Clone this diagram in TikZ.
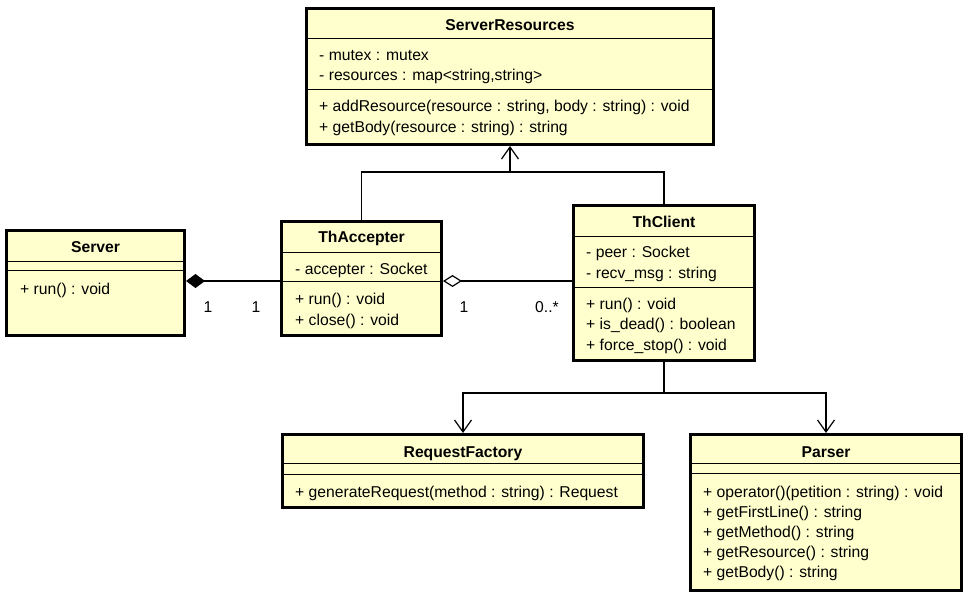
\documentclass[tikz,border=0pt]{standalone}
\usepackage{fontspec}
\setmainfont{Liberation Sans}
\usetikzlibrary{arrows.meta}
\usetikzlibrary{calc}
\usetikzlibrary{positioning}
\definecolor{umlfill}{RGB}{255,255,206}
\tikzset{x=1pt, y=-1pt, font=\fontsize{15.7}{18}\selectfont}
\tikzstyle{class} = [draw, fill=umlfill, line width=2.8pt, rectangle, anchor=north west, inner sep=0pt]
\tikzstyle{title} = [font=\fontsize{15.7}{18}\selectfont\bfseries, anchor=base, inner sep=0pt]
\tikzstyle{member} = [anchor=base west, inner sep=0pt]
\tikzstyle{sep} = [line width=0.9pt]
\tikzstyle{link} = [line width=1.2pt]
\tikzstyle{compo} = [link, -{Diamond[length=19pt,width=14pt]}]
\tikzstyle{aggr} = [link, -{Diamond[open,length=19pt,width=12pt]}]
\tikzstyle{navi} = [link, -{Straight Barb[length=12pt,width=17pt]}]
\tikzstyle{mult} = [inner sep=0pt, yshift=-26pt]

\begin{document}
\begin{tikzpicture}
    \useasboundingbox (0,0) rectangle (970,599);
    \fill[white] (0,0) rectangle (970,599);

    \node [class, minimum width=407.2pt, minimum height=136.2pt] (srvres) at (305,7) {};
    \node [class, minimum width=178.2pt, minimum height=105.2pt] (server) at (5,229) {};
    \node [class, minimum width=160.2pt, minimum height=114.2pt] (thacc) at (280,220) {};
    \node [class, minimum width=181.2pt, minimum height=155.2pt] (thclient) at (572,204) {};
    \node [class, minimum width=361.2pt, minimum height=73.2pt] (reqfac) at (281,433) {};
    \node [class, minimum width=271.2pt, minimum height=156.2pt] (parser) at (689,433) {};

    \draw [sep] (srvres.west |- 0,38) -- (srvres.east |- 0,38);
    \draw [sep] (srvres.west |- 0,89) -- (srvres.east |- 0,89);
    \draw [sep] (server.west |- 0,261) -- (server.east |- 0,261);
    \draw [sep] (server.west |- 0,270) -- (server.east |- 0,270);
    \draw [sep] (thacc.west |- 0,252) -- (thacc.east |- 0,252);
    \draw [sep] (thacc.west |- 0,281) coordinate (acc-s2w) -- (thacc.east |- 0,281) coordinate (acc-s2e);
    \draw [sep] (thclient.west |- 0,236) -- (thclient.east |- 0,236);
    \draw [sep] (thclient.west |- 0,287) -- (thclient.east |- 0,287);
    \draw [sep] (reqfac.west |- 0,463) -- (reqfac.east |- 0,463);
    \draw [sep] (reqfac.west |- 0,474) -- (reqfac.east |- 0,474);
    \draw [sep] (parser.west |- 0,463) -- (parser.east |- 0,463);
    \draw [sep] (parser.west |- 0,473) -- (parser.east |- 0,473);

    \node [title] (srvres-name) at (srvres.north |- 0,31) {ServerResources};
    \node [member] (srvres-a1) at (319,61) {- mutex : mutex};
    \node [member] (srvres-a2) at (319,81) {- resources : map<string,string>};
    \node [member] (srvres-m1) at (319,112) {+ addResource(resource : string, body : string) : void};
    \node [member] (srvres-m2) at (319,133) {+ getBody(resource : string) : string};

    \node [title] (server-name) at (server.north |- 0,252) {Server};
    \node [member] (server-m1) at (20,294) {+ run() : void};

    \node [title] (thacc-name) at (thacc.north |- 0,243) {ThAccepter};
    \node [member] (thacc-a1) at (295,274) {- accepter : Socket};
    \node [member] (thacc-m1) at (295,304) {+ run() : void};
    \node [member] (thacc-m2) at (295,325) {+ close() : void};

    \node [title] (thclient-name) at (thclient.north |- 0,227) {ThClient};
    \node [member] (thclient-a1) at (586,258) {- peer : Socket};
    \node [member] (thclient-a2) at (586,278) {- recv\_msg : string};
    \node [member] (thclient-m1) at (586,309) {+ run() : void};
    \node [member] (thclient-m2) at (586,329) {+ is\_dead() : boolean};
    \node [member] (thclient-m3) at (586,350) {+ force\_stop() : void};

    \node [title] (reqfac-name) at (reqfac.north |- 0,457) {RequestFactory};
    \node [member] (reqfac-m1) at (295,497) {+ generateRequest(method : string) : Request};

    \node [title] (parser-name) at (parser.north |- 0,457) {Parser};
    \node [member] (parser-m1) at (703,497) {+ operator()(petition : string) : void};
    \node [member] (parser-m2) at (703,517) {+ getFirstLine() : string};
    \node [member] (parser-m3) at (703,537) {+ getMethod() : string};
    \node [member] (parser-m4) at (703,557) {+ getResource() : string};
    \node [member] (parser-m5) at (703,577) {+ getBody() : string};

    \coordinate (genjoin) at ($(srvres.south)+(0,26)$);
    \coordinate (depjoin) at ($(thclient.south)+(0,31)$);
    \draw [link] (thacc.north) |- (genjoin) -| (thclient.north);
    \draw [navi] (genjoin) -- (srvres.south);
    \draw [link] (thclient.south) -- (depjoin);
    \draw [navi] (depjoin) -| (reqfac.north);
    \draw [navi] (depjoin) -| (parser.north);
    \draw [compo] (acc-s2w) -- node [mult, pos=0.255] {1} node [mult, pos=0.766] {1} (acc-s2w -| server.east);
    \draw [aggr] (acc-s2e -| thclient.west) -- node [mult, pos=0.194] {0..*} node [mult, pos=0.837] {1} (acc-s2e);
\end{tikzpicture}
\end{document}
